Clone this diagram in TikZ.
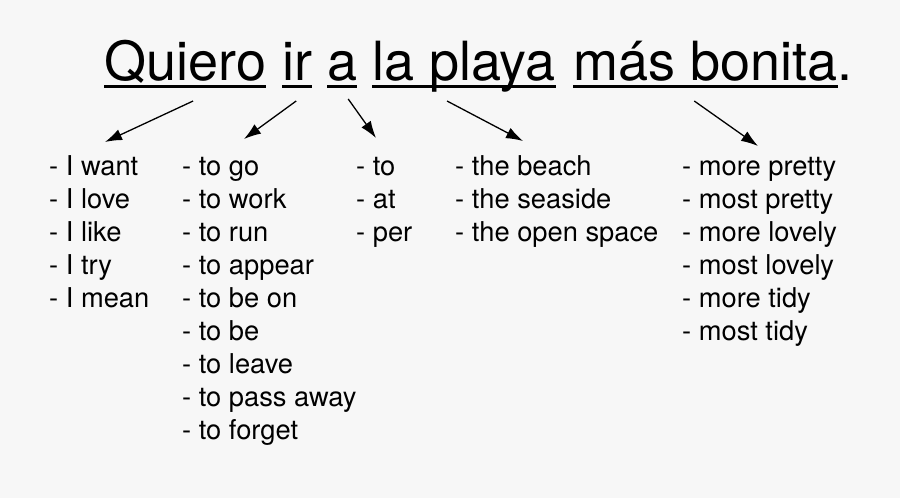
\documentclass[tikz,border=0pt]{standalone}
\usepackage{fontspec}
\setmainfont{TeX Gyre Heros}
\usetikzlibrary{arrows.meta,positioning}
\definecolor{bgpaper}{HTML}{F7F7F7}

\begin{document}
\begin{tikzpicture}[x=1pt,y=-1pt,
	word/.style={inner sep=0pt,anchor=base west,font=\fontsize{54}{60}\selectfont},
	item/.style={inner sep=0pt,anchor=base west,font=\fontsize{27.3}{33}\selectfont},
	underl/.style={line width=3pt},
	pointer/.style={line width=1.3pt,-{Latex[length=17pt,width=11.5pt]}}]
	
	%Paper
	\fill[bgpaper] (0,0) rectangle (900,498);
	
	%Sentence
	\node[word] (quiero) at (104,80) {Quiero};
	\node[word] (ir) at (282,80) {ir};
	\node[word] (a) at (327,80) {a};
	\node[word] (playa) at (372,80) {la playa};
	\node[word] (bonita) at (573,80) {más bonita};
	\node[word, base right=0pt of bonita] (dot) {.};
	
	%Underlines
	\foreach \w in {quiero,ir,a,playa,bonita}
		\draw[underl] ([yshift=-6.5pt]\w.base west) -- ([yshift=-6.5pt]\w.base east);
	
	%Lists
	\foreach \t [count=\i] in {I want, I love, I like, I try, I mean}
		\node[item] (subj-\i) at (49,{175+33*(\i-1)}) {- \t};
	\foreach \t [count=\i] in {to go, to work, to run, to appear, to be on, to be, to leave, to pass away, to forget}
		\node[item] (verb-\i) at (182,{175+33*(\i-1)}) {- \t};
	\foreach \t [count=\i] in {to, at, per}
		\node[item] (prep-\i) at (356,{175+33*(\i-1)}) {- \t};
	\foreach \t [count=\i] in {the beach, the seaside, the open space}
		\node[item] (place-\i) at (455,{175+33*(\i-1)}) {- \t};
	\foreach \t [count=\i] in {more pretty, most pretty, more lovely, most lovely, more tidy, most tidy}
		\node[item] (adj-\i) at (682,{175+33*(\i-1)}) {- \t};
	
	%Arrows
	\draw[pointer] ([shift={(8,21)}]quiero.base) -- ([shift={(56,-33)}]subj-1.base west);
	\draw[pointer] ([shift={(-1,21)}]ir.base) -- ([shift={(62,-36)}]verb-1.base west);
	\draw[pointer] ([shift={(6,19)}]a.base) -- ([shift={(20,-37)}]prep-1.base west);
	\draw[pointer] ([shift={(-17,21)}]playa.base) -- ([shift={(68,-34)}]place-1.base west);
	\draw[pointer] ([shift={(-11,21)}]bonita.base) -- ([shift={(76,-29)}]adj-1.base west);
\end{tikzpicture}
\end{document}
